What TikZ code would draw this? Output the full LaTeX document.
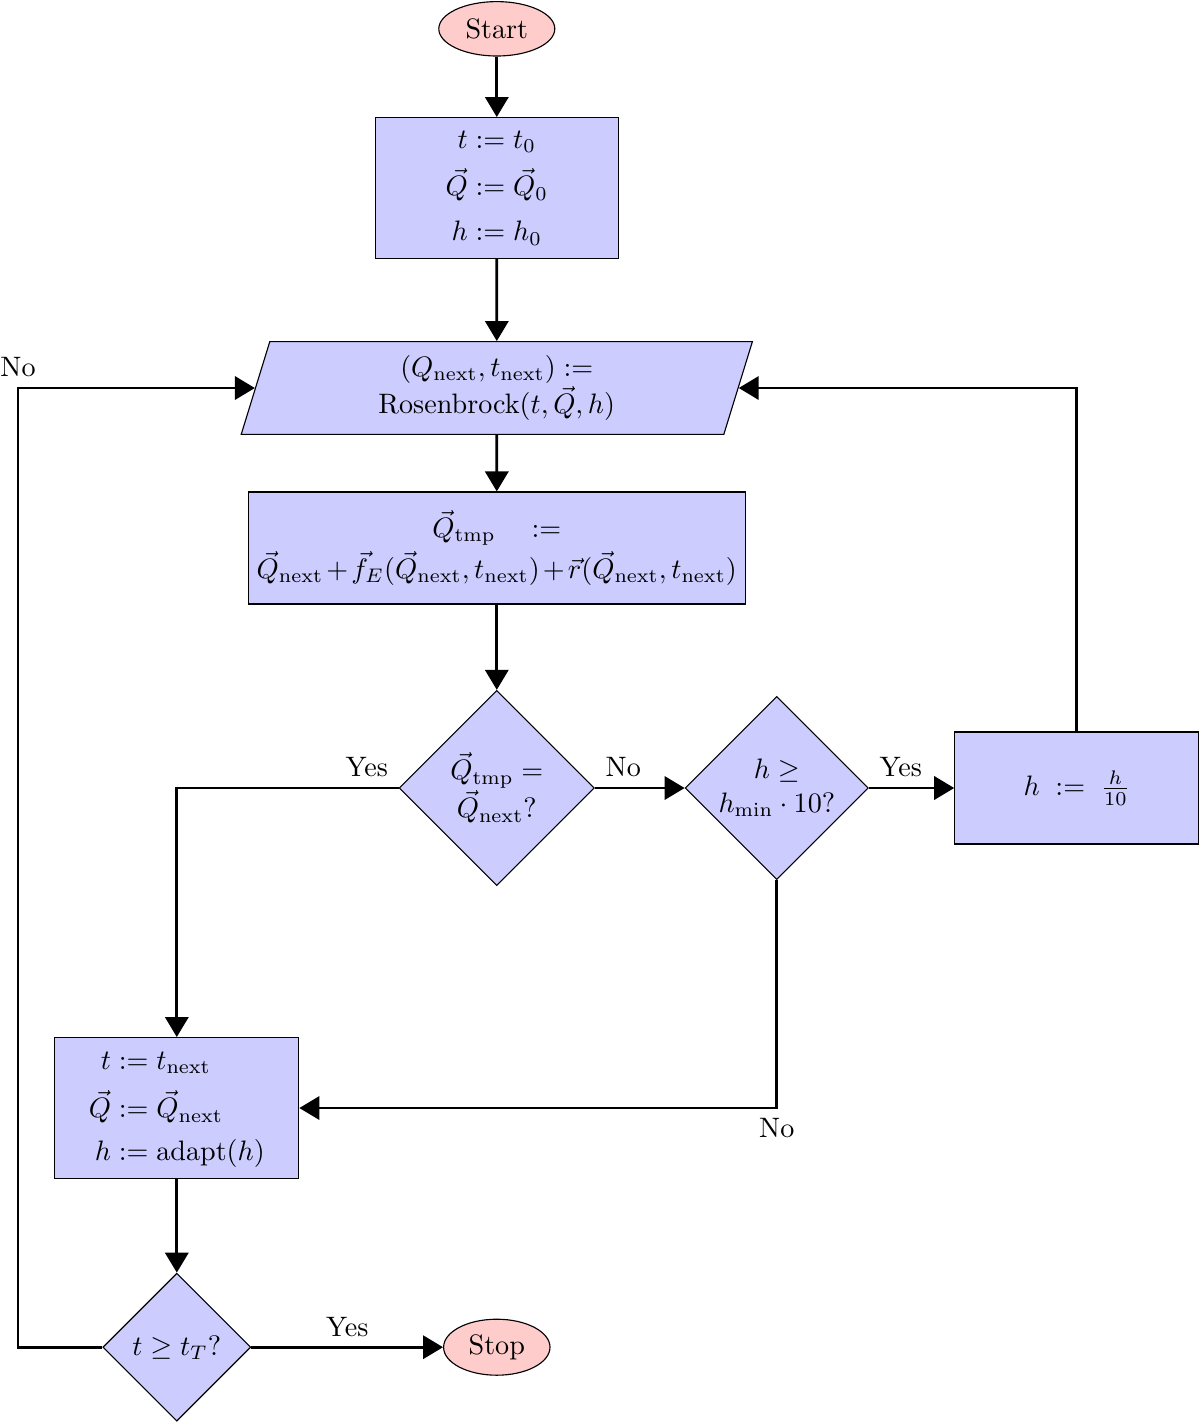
\documentclass[tikz,border=0pt]{standalone}
\usepackage{amsmath}
\usetikzlibrary{shapes.geometric,arrows.meta}

\begin{document}
\begin{tikzpicture}[
    term/.style={ellipse, draw, fill=red!20, minimum width=1.45cm, minimum height=0.68cm, inner sep=1pt},
    proc/.style={rectangle, draw, fill=blue!20, align=center, inner sep=2pt},
    io/.style={trapezium, trapezium left angle=68, trapezium right angle=112, trapezium stretches body,
        draw, fill=blue!20, align=center, minimum width=6.39cm, minimum height=1.16cm, inner sep=1pt},
    decide/.style={diamond, aspect=1, draw, fill=blue!20, align=center, inner sep=0pt},
    conn/.style={line width=1pt, -{Triangle[length=2.5mm,width=2.9mm]}}
]
    \useasboundingbox (0,0) rectangle (15,-17.8);

    % main column
    \node[term] (start) at (6.21,-0.36) {Start};
    \node[proc, minimum width=3.04cm, minimum height=1.76cm] (init) at (6.21,-2.35)
        {$t := t_0$\\[5pt] $\vec{Q} := \vec{Q}_0$\\[4pt] $h := h_0$};
    \node[io] (rosen) at (6.21,-4.85)
        {$(Q_{\text{next}}, t_{\text{next}}) :=$\\ Rosenbrock$(t, \vec{Q}, h)$};
    \node[proc, minimum width=6.21cm, minimum height=1.4cm] (tmp) at (6.21,-6.85)
        {$\vec{Q}_{\text{tmp}}\quad:=$\\[1pt]
         $\medmuskip=2mu \vec{Q}_{\text{next}}+\vec{f}_E(\vec{Q}_{\text{next}}, t_{\text{next}})+\vec{r}(\vec{Q}_{\text{next}}, t_{\text{next}})$};
    \node[decide, minimum size=2.44cm] (same) at (6.21,-9.85)
        {$\vec{Q}_{\text{tmp}} =$\\ $\vec{Q}_{\text{next}}$?};

    % step size check
    \node[decide, minimum size=2.29cm] (hmin) at (9.71,-9.85)
        {$h \geq$\\ $h_{\min}\cdot 10$?};
    \node[proc, minimum width=3.05cm, minimum height=1.4cm] (shrink) at (13.46,-9.85)
        {$h \;:=\; \frac{h}{10}$};

    % accept step
    \node[proc, minimum width=3.05cm, minimum height=1.76cm] (update) at (2.21,-13.85)
        {$\begin{aligned} t &:= t_{\text{next}}\\ \vec{Q} &:= \vec{Q}_{\text{next}}\\ h &:= \text{adapt}(h)\end{aligned}$};
    \node[decide, minimum size=1.85cm] (done) at (2.21,-16.84) {$t \geq t_T$?};
    \node[term, minimum width=1.33cm, minimum height=0.7cm] (stop) at (6.21,-16.84) {Stop};

    \coordinate (loopL) at (0.225,0);

    % connectors
    \draw[conn] (start) -- (init);
    \draw[conn] (init) -- (rosen);
    \draw[conn] (rosen) -- (tmp);
    \draw[conn] (tmp) -- (same);
    \draw[conn] (same.east) -- (hmin.west) node[pos=0, anchor=south west] (lNo1) {No};
    \draw[conn] (hmin.east) -- (shrink.west) node[pos=0, anchor=south west] (lYes2) {Yes};
    \draw[conn] (shrink.north) |- (rosen.east);
    \draw[conn] (same.west) -| (update.north) node[pos=0, anchor=south east] (lYes1) {Yes};
    \draw[conn] (hmin.south) |- (update.east) node[pos=0.5, below] (lNo2) {No};
    \draw[conn] (update) -- (done);
    \draw[conn] (done.east) -- (stop.west) node[midway, above] (lYes3) {Yes};
    \draw[conn] (done.west) -| (loopL |- rosen.west) node[above] (lNo3) {No} -- (rosen.west);
\end{tikzpicture}
\end{document}
